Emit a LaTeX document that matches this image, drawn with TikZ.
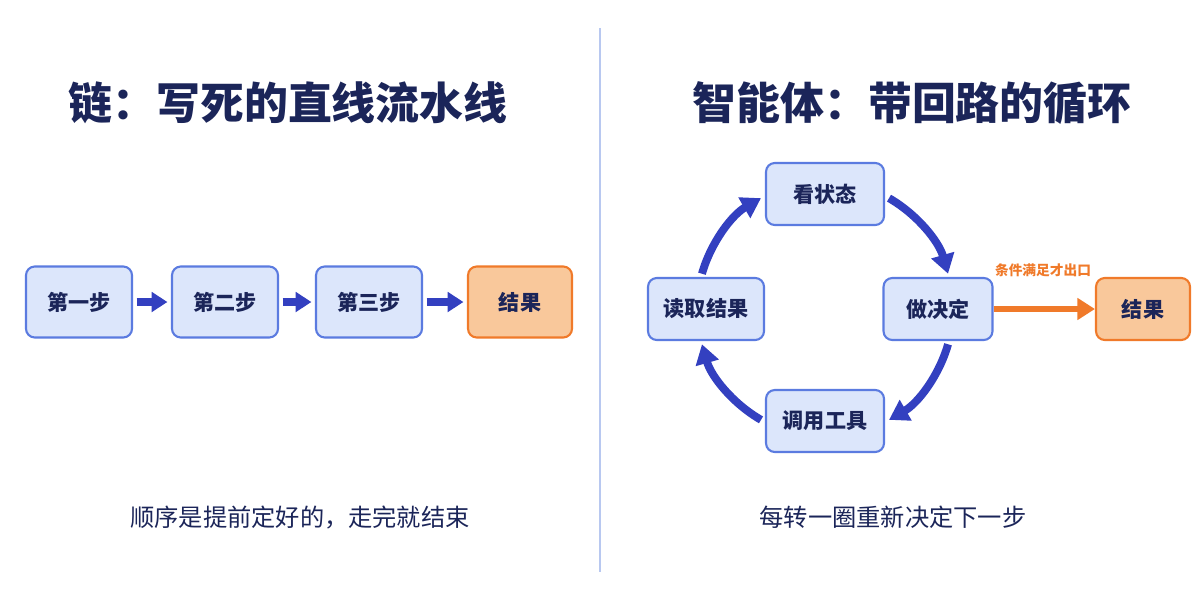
\documentclass[tikz,border=0pt]{standalone}
\usepackage{fontspec}
\setmainfont{Noto Sans CJK SC}
\usetikzlibrary{arrows.meta}
\definecolor{navy}{HTML}{1B2559}
\definecolor{bfill}{HTML}{DCE6FB}
\definecolor{bdraw}{HTML}{5B7BE0}
\definecolor{ofill}{HTML}{F9C89B}
\definecolor{odraw}{HTML}{F07A2A}
\definecolor{arr}{HTML}{3340C0}
\definecolor{divc}{HTML}{B8C8F0}
\begin{document}
\begin{tikzpicture}[x=0.02cm,y=0.02cm,
  box/.style={draw=bdraw,fill=bfill,line width=1.2pt,rounded corners=5pt,minimum width=2.12cm,minimum height=1.42cm,font=\fontsize{12}{14}\selectfont\bfseries,text=navy,inner sep=0pt},
  rbox/.style={box,minimum width=2.36cm,minimum height=1.24cm},
  obox/.style={box,draw=odraw,fill=ofill},
  title/.style={font=\fontsize{25}{28}\selectfont\bfseries,text=navy},
  note/.style={font=\fontsize{13.8}{16}\selectfont,text=navy},
  flow/.style={-{Triangle[length=9pt,width=11pt]},line width=4pt,draw=arr,shorten <=2pt,shorten >=2pt},
  loop/.style={-{Triangle[length=11pt,width=13pt]},line width=4.5pt,draw=arr}]
\useasboundingbox (0,0) rectangle (1200,600);
\fill[white] (0,0) rectangle (1200,600);
\draw[divc,line width=1.5pt] (600,572) -- (600,28);
% left
\node[title] (lt) at (288,497) {链：写死的直线流水线};
\node[box] (a1) at (79,298) {第一步};
\node[box] (a2) at (225,298) {第二步};
\node[box] (a3) at (369,298) {第三步};
\node[obox,minimum width=2.08cm] (a4) at (520,298) {结果};
\draw[flow] (a1) -- (a2);
\draw[flow] (a2) -- (a3);
\draw[flow] (a3) -- (a4);
\node[note] (ln) at (300,83) {顺序是提前定好的，走完就结束};
% right
\node[title] (rt) at (912,497) {智能体：带回路的循环};
\coordinate (c) at (825,291);
\node[rbox] (s1) at (825,406) {看状态};
\node[rbox,minimum width=2.18cm] (s2) at (938,291) {做决定};
\node[rbox] (s3) at (825,179) {调用工具};
\node[rbox,minimum width=2.32cm] (s4) at (706,291) {读取结果};
\node[obox,minimum width=1.88cm,minimum height=1.24cm] (r) at (1143,291) {结果};
\draw[-{Triangle[length=10pt,width=12pt]},line width=3.5pt,draw=odraw] (s2) -- (r);
\node[font=\fontsize{7.8}{9}\selectfont\bfseries,text=odraw] (cl) at (1043,330) {条件满足才出口};
\draw[loop] (c) ++(164:128) arc[start angle=164,end angle=120,radius=128];
\draw[loop] (c) ++(60:128) arc[start angle=60,end angle=16,radius=128];
\draw[loop] (c) ++(-16:128) arc[start angle=-16,end angle=-60,radius=128];
\draw[loop] (c) ++(-120:128) arc[start angle=-120,end angle=-164,radius=128];
\node[note] (rn) at (893,83) {每转一圈重新决定下一步};
\end{tikzpicture}
\end{document}
